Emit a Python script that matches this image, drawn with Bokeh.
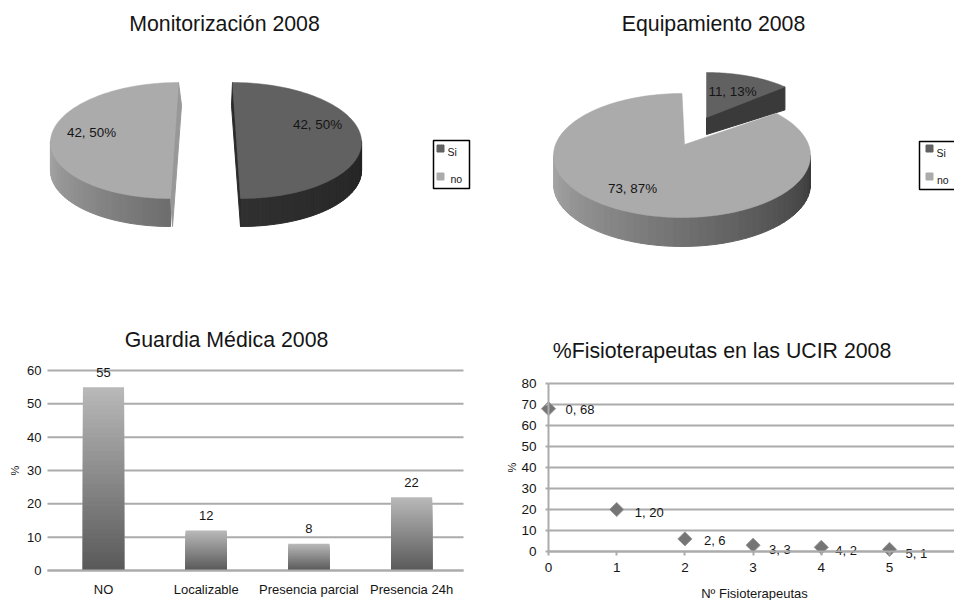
import math
from bokeh.plotting import figure
from bokeh.layouts import column, row
from bokeh.models import Range1d, FixedTicker
from bokeh.core.properties import value
from bokeh.embed import file_html
from bokeh.resources import INLINE

# ---------- data ----------
pie_labels = ["Si", "no"]
monitor_values = [42, 42]
monitor_pct = [50, 50]
equip_values = [11, 73]
equip_pct = [13, 87]
guardia_cats = ["NO", "Localizable", "Presencia parcial", "Presencia 24h"]
guardia_values = [55, 12, 8, 22]
guardia_ticks = [0, 10, 20, 30, 40, 50, 60]
fisio_x = [0, 1, 2, 3, 4, 5]
fisio_y = [68, 20, 6, 3, 2, 1]
fisio_yticks = [0, 10, 20, 30, 40, 50, 60, 70, 80]
titles = ["Monitorización 2008", "Equipamiento 2008", "Guardia Médica 2008", "%Fisioterapeutas en las UCIR 2008"]
y_title = "%"
x_title = "Nº Fisioterapeutas"

# ---------- style ----------
FONT = value("Liberation Sans")
FN = "Liberation Sans"
INK = "#151515"
GRID = "#ababab"
SI = "#616161"
NO = "#ababab"
TITLE_SIZE = "21.3px"


def hexc(v):
    v = int(round(v))
    return "#%02x%02x%02x" % (v, v, v)


def ell(cx, cy, rx, ry, lean, deg):
    a = math.radians(deg)
    return cx + rx * math.cos(a) + lean * math.sin(a), cy - ry * math.sin(a)


def wedge(p, apex, cx, cy, rx, ry, lean, a0, a1, color, n=90):
    xs, ys = [apex[0]], [apex[1]]
    for i in range(n + 1):
        x, y = ell(cx, cy, rx, ry, lean, a0 + (a1 - a0) * i / n)
        xs.append(x)
        ys.append(y)
    p.patch(xs, ys, fill_color=color, line_color=color, line_width=0.5)


def side(p, cx, cy, rx, ry, lean, a0, a1, depth, g0, g1, n=48):
    xs, ys, cols = [], [], []
    for i in range(n):
        x0, y0 = ell(cx, cy, rx, ry, lean, a0 + (a1 - a0) * i / n)
        x1, y1 = ell(cx, cy, rx, ry, lean, a0 + (a1 - a0) * (i + 1) / n)
        xs.append([x0, x1, x1, x0])
        ys.append([y0, y1, y1 + depth, y0 + depth])
        cols.append(hexc(g0 + (g1 - g0) * i / (n - 1)))
    p.patches(xs, ys, fill_color=cols, line_color=cols, line_width=1)


def txt(p, x, y, s, size, align="center", color=INK, angle=0.0):
    p.text([x], [y], text=[s], text_font=FONT, text_font_size=size, text_color=color,
           text_align=align, text_baseline="middle", angle=angle)


def legend(p, left, right, top, bottom, sq_x, sq_y, labels, lab_x, lab_y):
    p.quad(left=[left], right=[right], top=[top], bottom=[bottom], fill_color="white",
           line_color="black", line_width=1.5)
    p.scatter(sq_x, sq_y, marker="square", size=7, color=[SI, NO])
    for x, y, s in zip(lab_x, lab_y, labels):
        txt(p, x, y, s, "10.5px", "left")


def pie_fig(x0, x1, y0, y1):
    p = figure(width=x1 - x0, height=y1 - y0, x_range=Range1d(x0, x1), y_range=Range1d(y1, y0),
               output_backend="svg", toolbar_location=None, min_border=0, outline_line_color=None)
    p.axis.visible = False
    p.grid.visible = False
    return p


def style_axes(p, size):
    p.xgrid.visible = False
    p.ygrid.visible = False
    for ax in (p.xaxis, p.yaxis):
        ax.major_label_text_font = FN
        ax.major_label_text_font_size = size
        ax.major_label_text_color = INK
        ax.minor_tick_line_color = None
        ax.major_tick_line_color = GRID
        ax.major_tick_line_width = 2
        ax.major_tick_in = 0
        ax.fixed_location = 0


# ---------- Monitorización ----------
p1 = pie_fig(0, 480, 0, 300)
txt(p1, 224, 23, titles[0], TITLE_SIZE)
sweep_si = 360 * monitor_values[0] / sum(monitor_values)
sweep_no = 360 * monitor_values[1] / sum(monitor_values)
# "no" slice
c = (174, 140, 124, 58, 4)
side(p1, *c, 180, 270, 28, 168, 110)
top = ell(*c, 90)
bot = ell(*c, 270)
p1.patch([top[0], top[0] + 3, bot[0] + 2, bot[0]], [top[1], top[1] + 23, bot[1] + 28, bot[1]],
         fill_color="#989898", line_color="#989898")
wedge(p1, (c[0], c[1]), *c, 90, 90 + sweep_no, NO)
# "Si" slice
c = (236, 140, 125, 58, -4)
side(p1, *c, -90, 0, 28, 48, 36)
top = ell(*c, 90)
bot = ell(*c, -90)
p1.patch([top[0], top[0] - 1, bot[0], bot[0]], [top[1], top[1] + 23, bot[1] + 28, bot[1]],
         fill_color="#2a2a2a", line_color="#2a2a2a")
wedge(p1, (c[0], c[1]), *c, 90, 90 - sweep_si, SI)
txt(p1, 91, 132, f"{monitor_values[1]}, {monitor_pct[1]}%", "13.4px")
txt(p1, 317, 124, f"{monitor_values[0]}, {monitor_pct[0]}%", "13.4px")
legend(p1, 433, 469, 140, 188, [440, 440], [148, 176], pie_labels, [447, 450], [151, 178])

# ---------- Equipamiento ----------
p2 = pie_fig(480, 954, 0, 300)
txt(p2, 713, 23, titles[1], TITLE_SIZE)
sweep_si = 360 * equip_values[0] / sum(equip_values)
# small exploded slice
c = (706, 117, 107, 45, 0)
tip = ell(*c, 90 - sweep_si)
p2.patch([c[0], tip[0], tip[0], c[0]], [c[1], tip[1], tip[1] + 23, c[1] + 17],
         fill_color="#3a3a3a", line_color="#3a3a3a")
wedge(p2, (c[0], c[1]), *c, 90, 90 - sweep_si, SI)
# big slice
c = (681.5, 155, 128.5, 62, 0)
side(p2, *c, -180, 0, 29, 168, 58)
wedge(p2, (684, 144), *c, 90 - sweep_si, -270, NO, n=180)
txt(p2, 732, 91, f"{equip_values[0]}, {equip_pct[0]}%", "13.4px")
txt(p2, 632, 188, f"{equip_values[1]}, {equip_pct[1]}%", "13.4px")
legend(p2, 919, 962, 141, 189, [929, 929], [148, 176], pie_labels, [936, 936.5], [152, 179])

# ---------- Guardia Médica ----------
# the frame fills the whole cell; axes sit at fixed places inside it
g_scale = 60 / 200  # units per pixel
g_step = 102.7
gx = lambda px: (px - 103) / g_step
gy = lambda py: (570 - py) * g_scale
p3 = figure(width=480, height=300, x_range=Range1d(gx(0), gx(480)), y_range=Range1d(gy(600), gy(300)),
            output_backend="svg", toolbar_location=None, outline_line_color=None, min_border=0)
style_axes(p3, "13px")
p3.yaxis.fixed_location = gx(50)
n_t = len(guardia_ticks)
p3.segment(x0=[gx(47)] * n_t, y0=guardia_ticks, x1=[gx(463)] * n_t, y1=guardia_ticks,
           line_color=GRID, line_width=2)
for i, v in enumerate(guardia_values):
    n = 40
    # nested quads, lightest and tallest first, so that no seams show
    tops = [v * (k + 1) / n for k in range(n - 1, -1, -1)]
    cols = [hexc(0x5a + (0xb8 - 0x5a) * k / (n - 1)) for k in range(n - 1, -1, -1)]
    p3.quad(left=[i - 0.2] * n, right=[i + 0.2] * n, bottom=[0] * n, top=tops, fill_color=cols, line_color=None)
p3.text(list(range(4)), guardia_values, text=[str(v) for v in guardia_values], text_font=FONT,
        text_font_size="13px", text_color=INK, text_align="center", text_baseline="middle", y_offset=-15)
txt(p3, gx(226), gy(339), titles[2], TITLE_SIZE)
txt(p3, gx(14), gy(470), y_title, "11px", angle=math.pi / 2)
p3.xaxis.ticker = FixedTicker(ticks=[0, 1, 2, 3])
p3.xaxis.major_label_overrides = {i: c for i, c in enumerate(guardia_cats)}
p3.xaxis.bounds = (gx(47), gx(463))
p3.xaxis.major_tick_line_color = None
p3.xaxis.major_tick_out = 4
p3.xaxis.axis_line_color = GRID
p3.xaxis.axis_line_width = 2
p3.xaxis.major_label_standoff = 7
p3.yaxis.ticker = FixedTicker(ticks=guardia_ticks)
p3.yaxis.bounds = (0, 60)
p3.yaxis.axis_line_color = None
p3.yaxis.major_tick_line_color = None
p3.yaxis.major_tick_out = 0
p3.yaxis.major_label_standoff = 9

# ---------- Fisioterapeutas ----------
f_sx = 68.2
f_sy = 2.1
fx = lambda px: (px - 548) / f_sx
fy = lambda py: (551 - py) / f_sy
p4 = figure(width=474, height=300, x_range=Range1d(fx(480), fx(954)), y_range=Range1d(fy(600), fy(300)),
            output_backend="svg", toolbar_location=None, outline_line_color=None, min_border=0)
style_axes(p4, "13.5px")
n_t = len(fisio_yticks)
p4.segment(x0=[0] * n_t, y0=fisio_yticks, x1=[fx(954)] * n_t, y1=fisio_yticks, line_color=GRID, line_width=2)
p4.scatter(fisio_x, fisio_y, marker="square", angle=math.pi / 4, size=10, fill_color="#757575",
           line_color="#9a9a9a", line_width=1)
off_x = [17, 18, 19, 16, 14, 16]
off_y = [1, 3, 2, 4, 3, 4]
p4.text(fisio_x, fisio_y, text=[f"{a}, {b}" for a, b in zip(fisio_x, fisio_y)], text_font=FONT,
        text_font_size="13px", text_color=INK, text_align="left", text_baseline="middle",
        x_offset=off_x, y_offset=off_y)
txt(p4, fx(721.5), fy(350), titles[3], TITLE_SIZE)
txt(p4, fx(754), fy(593), x_title, "13px")
txt(p4, fx(511), fy(467), y_title, "11px", angle=math.pi / 2)
p4.xaxis.ticker = FixedTicker(ticks=fisio_x)
p4.xaxis.bounds = (0, fx(954))
p4.xaxis.axis_line_color = GRID
p4.xaxis.axis_line_width = 2
p4.xaxis.major_tick_out = 4
p4.xaxis.major_label_standoff = 7
p4.yaxis.ticker = FixedTicker(ticks=fisio_yticks)
p4.yaxis.bounds = (0, 80)
p4.yaxis.axis_line_color = GRID
p4.yaxis.axis_line_width = 2
p4.yaxis.major_tick_out = 3
p4.yaxis.major_label_standoff = 9

page = column(row(p1, p2, spacing=0), row(p3, p4, spacing=0), spacing=0)
open("out.html", "w").write(file_html(page, INLINE))
